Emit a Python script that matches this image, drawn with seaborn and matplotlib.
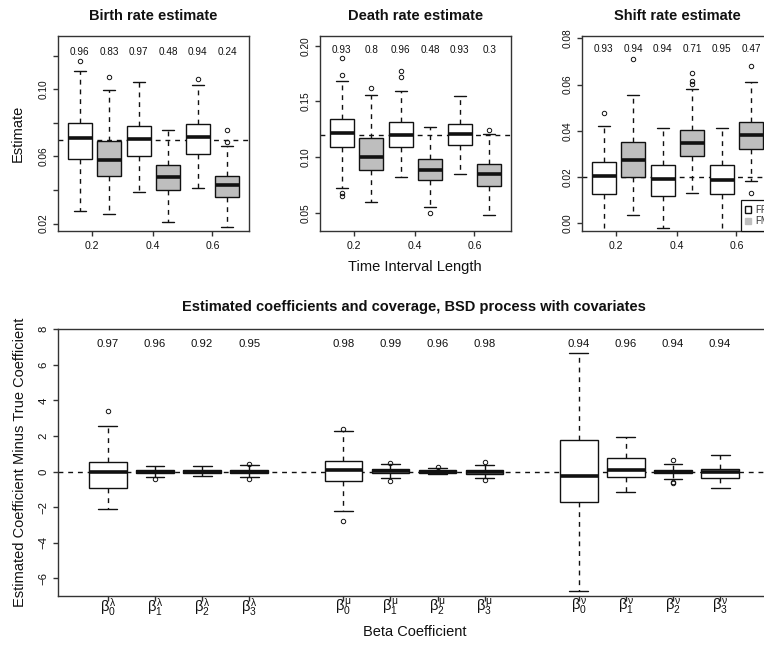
import matplotlib
matplotlib.use("Agg")
import matplotlib.pyplot as plt
import seaborn as sns
from matplotlib.patches import Patch

# ---------------- data ----------------
interval_labels = ["0.2", "0.4", "0.6"]
method_labels = ["FF", "FM"]

# Birth rate (boxes: FF0.2, FM0.2, FF0.4, FM0.4, FF0.6, FM0.6)
birth_lo = [0.0277, 0.0259, 0.0387, 0.0212, 0.0412, 0.0179]
birth_q1 = [0.0583, 0.0486, 0.0603, 0.0402, 0.0615, 0.0357]
birth_med = [0.0708, 0.0579, 0.0702, 0.0476, 0.0716, 0.0432]
birth_q3 = [0.0798, 0.0692, 0.0783, 0.0551, 0.0793, 0.0486]
birth_hi = [0.1109, 0.0994, 0.1043, 0.0756, 0.1026, 0.0664]
birth_fliers = [[0.1168], [0.1073], [], [], [0.1060], [0.0760, 0.0686]]
birth_cov = ["0.96", "0.83", "0.97", "0.48", "0.94", "0.24"]
birth_true = 0.07

# Death rate
death_lo = [0.0727, 0.0596, 0.0826, 0.0553, 0.0853, 0.0484]
death_q1 = [0.1090, 0.0886, 0.1090, 0.0793, 0.1108, 0.0745]
death_med = [0.1216, 0.1000, 0.1203, 0.0886, 0.1207, 0.0847]
death_q3 = [0.1344, 0.1171, 0.1311, 0.0985, 0.1293, 0.0934]
death_hi = [0.1686, 0.1562, 0.1590, 0.1266, 0.1553, 0.1210]
death_fliers = [[0.1890, 0.1733, 0.0677, 0.0652], [0.1623], [0.1769, 0.1715],
                [0.0497], [], [0.1245]]
death_cov = ["0.93", "0.8", "0.96", "0.48", "0.93", "0.3"]
death_true = 0.12

# Shift rate
shift_lo = [-0.0060, 0.0038, -0.0021, 0.0133, -0.0060, 0.0181]
shift_q1 = [0.0128, 0.0200, 0.0120, 0.0292, 0.0126, 0.0321]
shift_med = [0.0203, 0.0275, 0.0191, 0.0347, 0.0187, 0.0383]
shift_q3 = [0.0265, 0.0350, 0.0252, 0.0405, 0.0254, 0.0439]
shift_hi = [0.0419, 0.0553, 0.0412, 0.0581, 0.0413, 0.0609]
shift_fliers = [[0.0475], [0.0710], [], [0.0652, 0.0617, 0.0604], [],
                [0.0681, 0.0133]]
shift_cov = ["0.93", "0.94", "0.94", "0.71", "0.95", "0.47"]
shift_true = 0.02

# Coefficients (beta0..3 for lambda, mu, nu)
coef_labels = [r"$\beta_0^\lambda$", r"$\beta_1^\lambda$", r"$\beta_2^\lambda$", r"$\beta_3^\lambda$",
               r"$\beta_0^\mu$", r"$\beta_1^\mu$", r"$\beta_2^\mu$", r"$\beta_3^\mu$",
               r"$\beta_0^\nu$", r"$\beta_1^\nu$", r"$\beta_2^\nu$", r"$\beta_3^\nu$"]
coef_lo = [-2.10, -0.28, -0.26, -0.32, -2.19, -0.34, -0.13, -0.34, -6.69, -1.14, -0.43, -0.93]
coef_q1 = [-0.90, -0.10, -0.09, -0.10, -0.52, -0.10, -0.06, -0.12, -1.69, -0.28, -0.10, -0.34]
coef_med = [0.00, 0.00, 0.00, 0.00, 0.08, 0.02, 0.00, 0.00, -0.24, 0.11, 0.00, 0.00]
coef_q3 = [0.56, 0.12, 0.10, 0.10, 0.62, 0.15, 0.07, 0.12, 1.76, 0.79, 0.12, 0.17]
coef_hi = [2.57, 0.34, 0.32, 0.35, 2.30, 0.43, 0.23, 0.36, 6.69, 1.97, 0.41, 0.92]
coef_fliers = [[3.43], [-0.41], [], [0.45, -0.39], [2.42, -2.77], [0.50, -0.55],
               [0.28], [0.56, -0.45], [], [], [0.65, -0.57, -0.65], []]
coef_cov = ["0.97", "0.96", "0.92", "0.95", "0.98", "0.99", "0.96", "0.98",
            "0.94", "0.96", "0.94", "0.94"]
coef_true = 0.0

# ---------------- style ----------------
sns.set_theme(style="ticks")
INK = "#111111"
FRAME = "#333333"
GREY = "#BEBEBE"
plt.rcParams["font.family"] = ["Liberation Sans", "DejaVu Sans"]
plt.rcParams.update({
    "mathtext.fontset": "custom",
    "mathtext.rm": "Liberation Sans",
    "mathtext.it": "Liberation Sans",
    "mathtext.bf": "Liberation Sans:bold",
    "axes.edgecolor": FRAME,
    "axes.linewidth": 1.0,
    "xtick.color": FRAME,
    "ytick.color": FRAME,
    "xtick.labelcolor": INK,
    "ytick.labelcolor": INK,
    "text.color": INK,
    "xtick.major.size": 3.6,
    "ytick.major.size": 3.6,
    "xtick.major.width": 1.0,
    "ytick.major.width": 1.0,
})

W, H = 764, 646
fig = plt.figure(figsize=(W / 100, H / 100), dpi=100)


def rect(l, t, r, b):
    return [l / W, 1 - b / H, (r - l) / W, (b - t) / H]


def ftext(x, y, s, **kw):
    fig.text(x / W, 1 - y / H, s, ha="center", va="center", **kw)


DASH = (0, (3.5, 3.5))


def draw_boxes(ax, positions, lo, q1, med, q3, hi, fliers, faces):
    stats = [dict(whislo=a, q1=b, med=c, q3=d, whishi=e, fliers=f)
             for a, b, c, d, e, f in zip(lo, q1, med, q3, hi, fliers)]
    bp = ax.bxp(stats, positions=positions, widths=0.8, patch_artist=True,
                manage_ticks=False, showfliers=True, zorder=2,
                boxprops=dict(edgecolor=INK, linewidth=1.0),
                medianprops=dict(color=INK, linewidth=2.6, solid_capstyle="butt"),
                whiskerprops=dict(color=INK, linewidth=1.0, linestyle=DASH),
                capprops=dict(color=INK, linewidth=1.0),
                flierprops=dict(marker="o", markersize=3.2, markerfacecolor="none",
                                markeredgecolor=INK, markeredgewidth=0.7))
    for patch, fc in zip(bp["boxes"], faces):
        patch.set_facecolor(fc)
    return bp


top_positions = [1, 2, 3, 4, 5, 6]
top_faces = ["white", GREY] * 3
top_tick_pos = [1.42, 3.47, 5.5]

panels = [
    dict(rect=rect(58, 36, 249, 230.7), title="Birth rate estimate", tx=153.5,
         lo=birth_lo, q1=birth_q1, med=birth_med, q3=birth_q3, hi=birth_hi,
         fl=birth_fliers, cov=birth_cov, true=birth_true, ylim=(0.0158, 0.1317),
         yt=[0.02, 0.04, 0.06, 0.08, 0.10, 0.12],
         ytl=["0.02", "", "0.06", "", "0.10", ""], covy=0.1224),
    dict(rect=rect(320, 36, 511, 230.7), title="Death rate estimate", tx=415.5,
         lo=death_lo, q1=death_q1, med=death_med, q3=death_q3, hi=death_hi,
         fl=death_fliers, cov=death_cov, true=death_true, ylim=(0.034, 0.2087),
         yt=[0.05, 0.10, 0.15, 0.20],
         ytl=["0.05", "0.10", "0.15", "0.20"], covy=0.1964),
    dict(rect=rect(582, 36, 773, 230.7), title="Shift rate estimate", tx=677.5,
         lo=shift_lo, q1=shift_q1, med=shift_med, q3=shift_q3, hi=shift_hi,
         fl=shift_fliers, cov=shift_cov, true=shift_true, ylim=(-0.0032, 0.081),
         yt=[0.00, 0.02, 0.04, 0.06, 0.08],
         ytl=["0.00", "0.02", "0.04", "0.06", "0.08"], covy=0.0754),
]

for i, p in enumerate(panels):
    ax = fig.add_axes(p["rect"])
    ax.set_facecolor("white")
    ax.axhline(p["true"], color=INK, linewidth=1.0, linestyle=DASH, zorder=1)
    draw_boxes(ax, top_positions, p["lo"], p["q1"], p["med"], p["q3"], p["hi"],
               p["fl"], top_faces)
    for x, s in zip(top_positions, p["cov"]):
        ax.text(x, p["covy"], s, ha="center", va="center", fontsize=7.2, color=INK)
    ax.set_xlim(0.26, 6.74)
    ax.set_ylim(*p["ylim"])
    ax.set_xticks(top_tick_pos)
    ax.set_xticklabels(interval_labels, fontsize=7.6)
    ax.set_yticks(p["yt"])
    ax.set_yticklabels(p["ytl"], rotation=90, va="center", fontsize=7.3)
    ax.tick_params(axis="x", pad=3.5)
    ax.tick_params(axis="y", pad=3.0)
    for sp in ax.spines.values():
        sp.set_visible(True)
        sp.set_color(FRAME)
    ftext(p["tx"], 16, p["title"], fontsize=10.5, fontweight="bold")
    if i == 2:
        handles = [Patch(facecolor="white", edgecolor=INK, linewidth=1.0, label=method_labels[0]),
                   Patch(facecolor=GREY, edgecolor=GREY, linewidth=1.0, label=method_labels[1])]
        leg = ax.legend(handles=handles, loc="lower right", fontsize=7,
                        handlelength=0.6, handleheight=0.6, handletextpad=0.4,
                        borderpad=0.45, labelspacing=0.15, borderaxespad=0.0,
                        fancybox=False, framealpha=1.0, edgecolor=INK)
        leg.get_frame().set_linewidth(0.9)
        leg.set_zorder(5)
        for t in leg.get_texts():
            t.set_color("#333333")

ftext(18, 133, "Estimate", fontsize=10.5, rotation=90)
ftext(415, 267, "Time Interval Length", fontsize=10.5)

# ---------------- bottom panel ----------------
coef_positions = [1, 2, 3, 4, 6, 7, 8, 9, 11, 12, 13, 14]
axb = fig.add_axes(rect(58, 329.3, 770, 596.3))
axb.set_facecolor("white")
axb.axhline(coef_true, color=INK, linewidth=1.0, linestyle=DASH, zorder=1)
draw_boxes(axb, coef_positions, coef_lo, coef_q1, coef_med, coef_q3, coef_hi,
           coef_fliers, ["white"] * len(coef_positions))
for x, s in zip(coef_positions, coef_cov):
    axb.text(x, 7.15, s, ha="center", va="center", fontsize=8.2, color=INK)
axb.set_xlim(-0.06, 15.06)
axb.set_ylim(-7, 8)
axb.set_xticks(coef_positions)
axb.set_xticklabels(coef_labels, fontsize=10.5)
axb.tick_params(axis="x", pad=-3.4)
axb.set_yticks([-6, -4, -2, 0, 2, 4, 6, 8])
axb.set_yticklabels(["\u22126", "\u22124", "\u22122", "0", "2", "4", "6", "8"],
                    rotation=90, va="center", fontsize=8.2)
axb.tick_params(axis="y", pad=3.0)
for sp in axb.spines.values():
    sp.set_visible(True)
    sp.set_color(FRAME)

ftext(414, 307, "Estimated coefficients and coverage, BSD process with covariates",
      fontsize=10.5, fontweight="bold")
ftext(20, 462, "Estimated Coefficient Minus True Coefficient", fontsize=10.5, rotation=90)
ftext(415, 632.5, "Beta Coefficient", fontsize=10.5)

fig.savefig("out.png", dpi=100, facecolor="white")
